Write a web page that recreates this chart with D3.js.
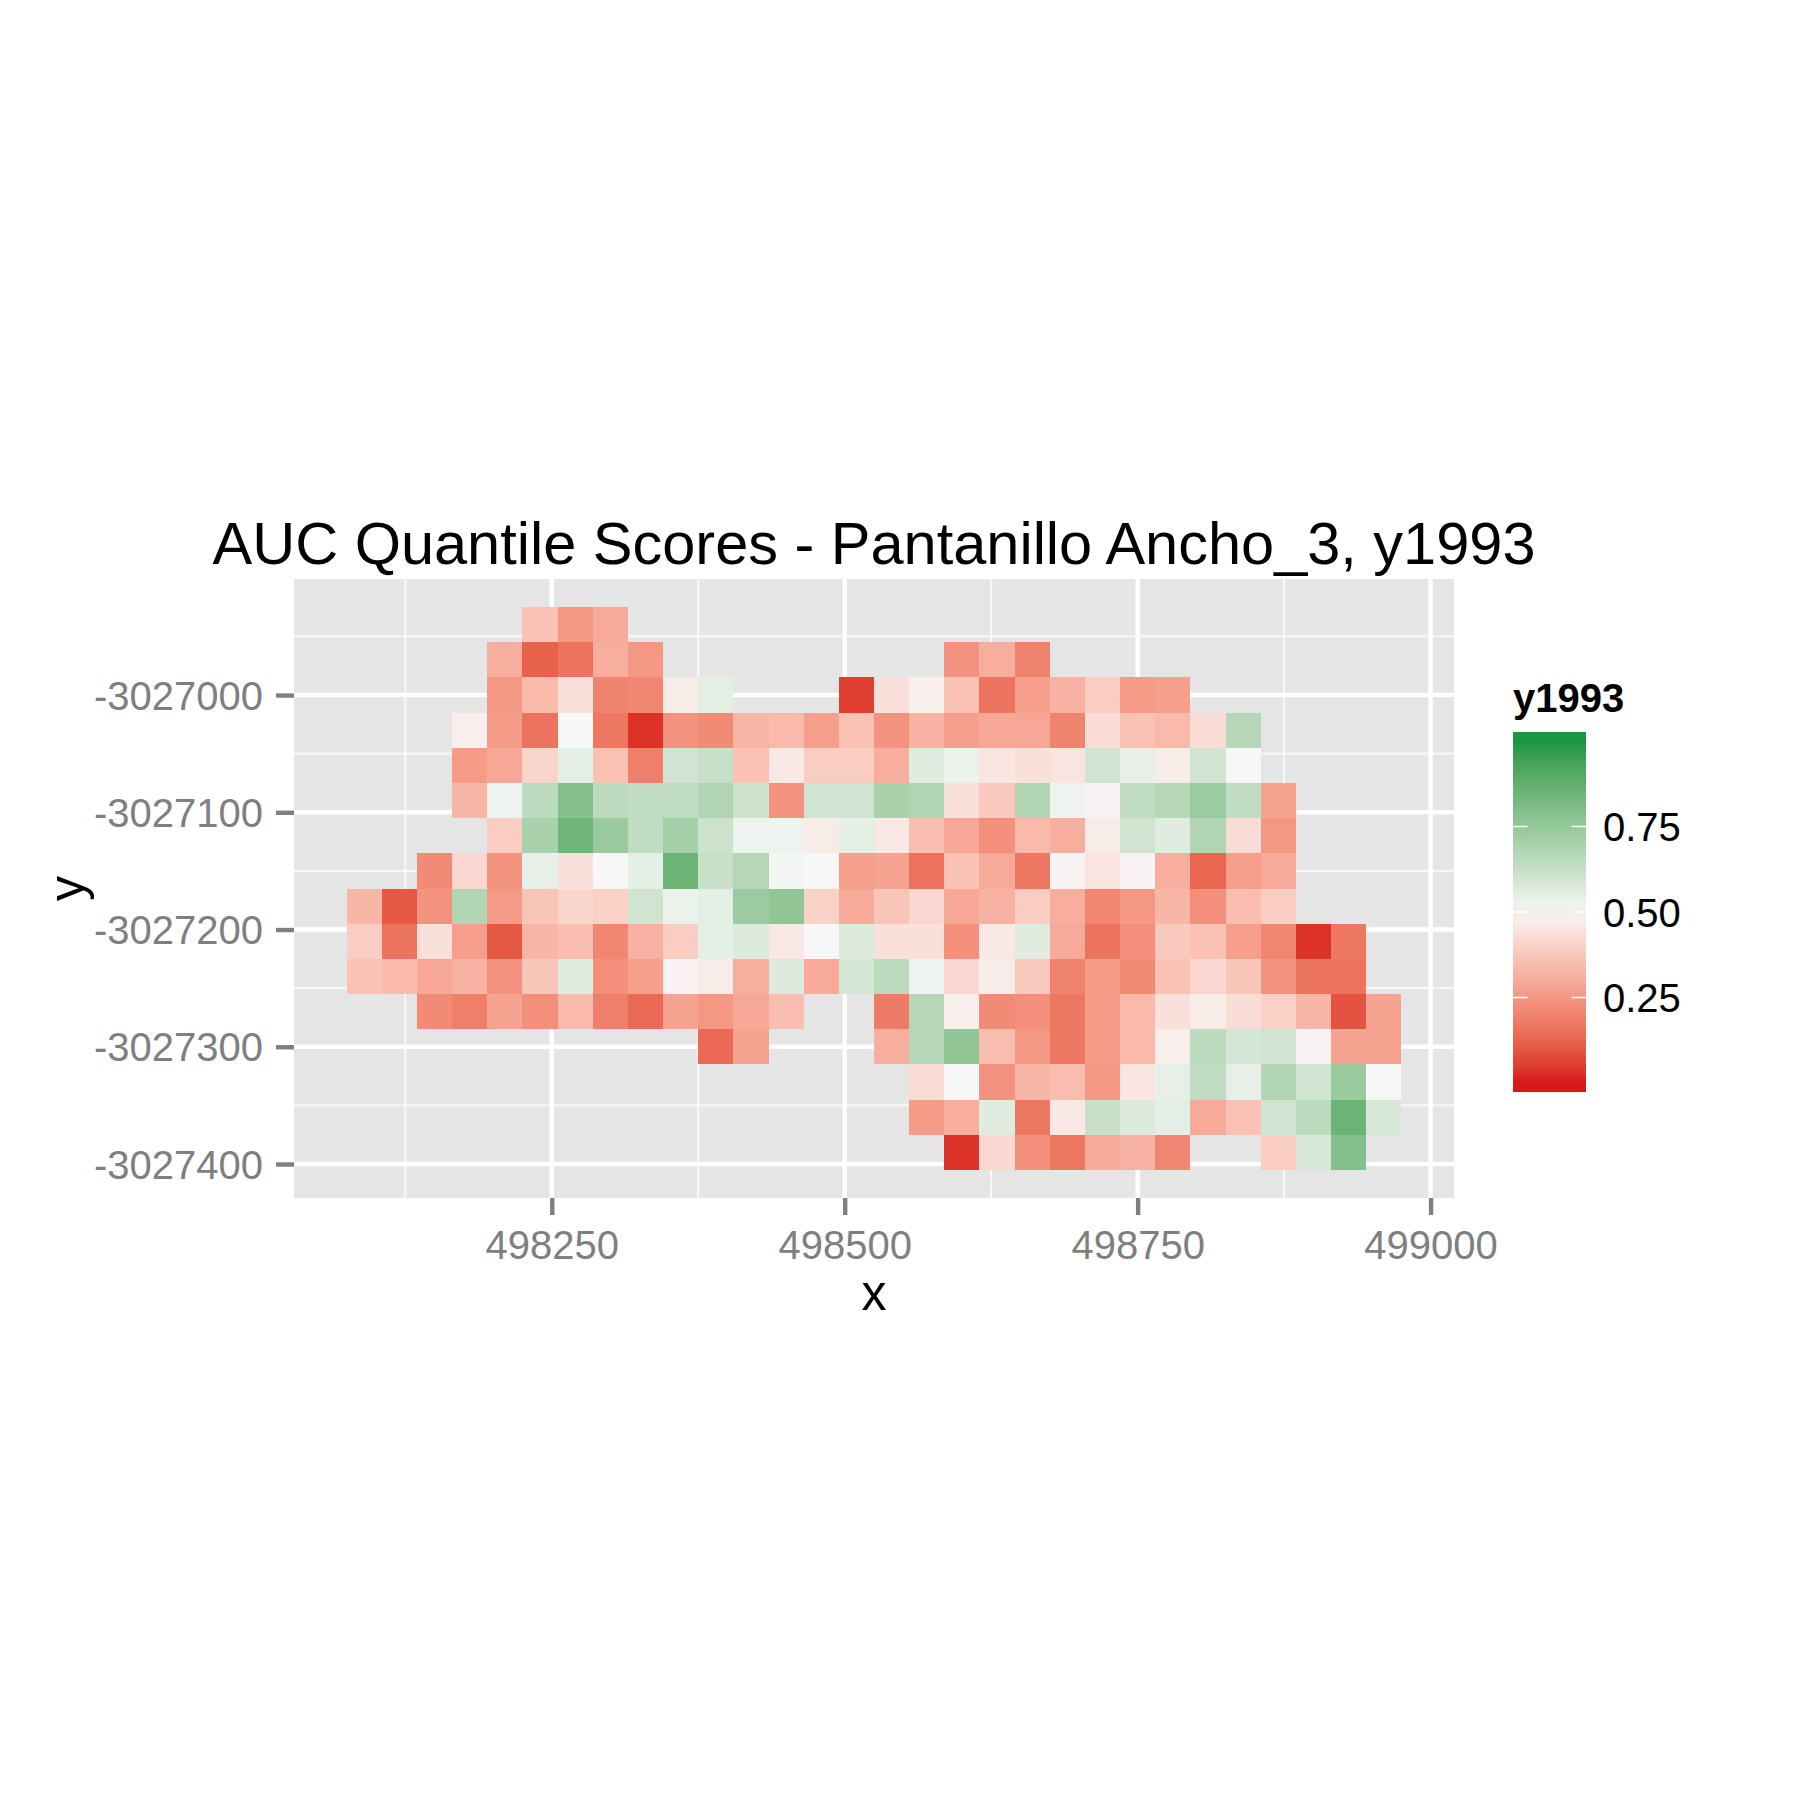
<!DOCTYPE html>
<html>
<head>
<meta charset="utf-8">
<script src="https://cdn.jsdelivr.net/npm/d3@7"></script>
<style>
  html, body { margin: 0; background: #fff; }
  svg { display: block; }
  text { font-family: "Liberation Sans", Arial, sans-serif; }
</style>
</head>
<body>
<script>
const _ = null;

// cell centres
const xCells = [498090, 498120, 498150, 498180, 498210, 498240, 498270, 498300, 498330, 498360,
  498390, 498420, 498450, 498480, 498510, 498540, 498570, 498600, 498630, 498660,
  498690, 498720, 498750, 498780, 498810, 498840, 498870, 498900, 498930, 498960];
const yCells = [-3026940, -3026970, -3027000, -3027030, -3027060, -3027090, -3027120, -3027150,
  -3027180, -3027210, -3027240, -3027270, -3027300, -3027330, -3027360, -3027390];

// y1993 score, one row per yCells entry, one column per xCells entry
const scores = [
  [_, _, _, _, _, .36, .25, .30, _, _, _, _, _, _, _, _, _, _, _, _, _, _, _, _, _, _, _, _, _, _],
  [_, _, _, _, .31, .12, .16, .31, .25, _, _, _, _, _, _, _, _, .24, .31, .20, _, _, _, _, _, _, _, _, _, _],
  [_, _, _, _, .25, .34, .44, .20, .21, .47, .55, _, _, _, .05, .44, .48, .36, .16, .27, .32, .39, .26, .27, _, _, _, _, _, _],
  [_, _, _, .48, .26, .16, .50, .17, .03, .24, .22, .33, .34, .27, .36, .24, .32, .27, .29, .29, .20, .43, .36, .34, .43, .67, _, _, _, _],
  [_, _, _, .26, .29, .41, .55, .36, .19, .60, .62, .36, .46, .39, .39, .31, .56, .53, .45, .44, .45, .60, .54, .47, .60, .50, _, _, _, _],
  [_, _, _, .33, .52, .65, .79, .65, .64, .64, .68, .61, .24, .60, .60, .70, .68, .44, .38, .68, .52, .49, .64, .67, .73, .64, .28, _, _, _],
  [_, _, _, _, .39, .70, .84, .74, .64, .71, .61, .52, .52, .47, .55, .46, .35, .29, .23, .34, .31, .47, .60, .56, .68, .43, .25, _, _, _],
  [_, _, .22, .42, .24, .54, .44, .50, .55, .85, .62, .67, .51, .50, .27, .28, .16, .36, .30, .17, .49, .45, .49, .31, .13, .27, .30, _, _, _],
  [.33, .10, .24, .68, .26, .37, .41, .40, .60, .53, .55, .73, .76, .40, .30, .37, .42, .29, .32, .39, .31, .21, .25, .33, .23, .35, .39, _, _, _],
  [.39, .16, .44, .27, .10, .33, .35, .21, .32, .39, .55, .57, .46, .50, .57, .44, .44, .23, .46, .56, .30, .16, .23, .38, .36, .27, .21, .03, .17, _],
  [.36, .34, .29, .32, .24, .37, .56, .23, .27, .49, .47, .31, .57, .30, .59, .65, .52, .42, .47, .38, .20, .26, .22, .36, .42, .37, .24, .16, .16, _],
  [_, _, .22, .19, .28, .23, .34, .19, .14, .28, .25, .29, .35, _, _, .18, .67, .48, .22, .23, .17, .26, .34, .44, .47, .43, .40, .33, .09, .28],
  [_, _, _, _, _, _, _, _, _, _, .14, .28, _, _, _, .31, .67, .76, .35, .25, .17, .26, .34, .48, .65, .59, .60, .49, .28, .28],
  [_, _, _, _, _, _, _, _, _, _, _, _, _, _, _, _, .43, .50, .24, .33, .35, .25, .45, .54, .64, .54, .68, .60, .74, .50],
  [_, _, _, _, _, _, _, _, _, _, _, _, _, _, _, _, .26, .31, .56, .17, .46, .62, .57, .55, .30, .36, .60, .65, .85, .58],
  [_, _, _, _, _, _, _, _, _, _, _, _, _, _, _, _, _, .03, .42, .23, .17, .30, .32, .21, _, _, .39, .58, .79, _],
];

const xMajor = [498250, 498500, 498750, 499000];
const xMinor = [498125, 498375, 498625, 498875];
const yMajor = [-3027000, -3027100, -3027200, -3027300, -3027400];
const yMinor = [-3026950, -3027050, -3027150, -3027250, -3027350];
const legendTicks = [0.25, 0.5, 0.75];

const width = 1800,
  height = 1800;
const panel = { left: 294, right: 1454, top: 579, bottom: 1198 };
const halfCell = 15;

const svg = d3
  .select("body")
  .append("svg")
  .attr("width", width)
  .attr("height", height)
  .attr("viewBox", [0, 0, width, height]);

const x = d3.scaleLinear().domain([498030, 499020]).range([panel.left, panel.right]);
const y = d3.scaleLinear().domain([-3027429, -3026901]).range([panel.bottom, panel.top]);

const color = d3
  .scaleLinear()
  .domain([0, 0.5, 1])
  .range(["#d7191c", "#f7f7f7", "#1a9641"])
  .interpolate(d3.interpolateLab);

// panel background and grid
svg
  .append("rect")
  .attr("x", panel.left)
  .attr("y", panel.top)
  .attr("width", panel.right - panel.left)
  .attr("height", panel.bottom - panel.top)
  .attr("fill", "#e5e5e5");

function gridLines(values, size, vertical) {
  svg
    .append("g")
    .selectAll("line")
    .data(values)
    .join("line")
    .attr("x1", (d) => (vertical ? x(d) : panel.left))
    .attr("x2", (d) => (vertical ? x(d) : panel.right))
    .attr("y1", (d) => (vertical ? panel.top : y(d)))
    .attr("y2", (d) => (vertical ? panel.bottom : y(d)))
    .attr("stroke", d3.rgb(255, 255, 255, size < 3 ? 0.7 : 1))
    .attr("stroke-width", size);
}
gridLines(xMinor, 2.2, true);
gridLines(yMinor, 2.2, false);
gridLines(xMajor, 4.4, true);
gridLines(yMajor, 4.4, false);

// raster cells
const cells = [];
scores.forEach((row, r) => {
  row.forEach((v, c) => {
    if (v !== null) cells.push({ x: xCells[c], y: yCells[r], v: v });
  });
});

svg
  .append("g")
  .attr("shape-rendering", "crispEdges")
  .selectAll("rect")
  .data(cells)
  .join("rect")
  .attr("x", (d) => x(d.x - halfCell))
  .attr("y", (d) => y(d.y + halfCell))
  .attr("width", (d) => x(d.x + halfCell) - x(d.x - halfCell))
  .attr("height", (d) => y(d.y - halfCell) - y(d.y + halfCell))
  .attr("fill", (d) => color(d.v));

// axes, plain hyphen in the labels like R prints them
const xAxis = d3.axisBottom(x).tickValues(xMajor).tickFormat((d) => String(d)).tickSize(17).tickSizeOuter(0);
const yAxis = d3.axisLeft(y).tickValues(yMajor).tickFormat((d) => String(d)).tickSize(18).tickSizeOuter(0);

function styleAxis(g) {
  g.select(".domain").remove();
  g.selectAll("line").attr("stroke", "#7f7f7f").attr("stroke-width", 4.4);
  g.selectAll("text")
    .attr("fill", "#7f7f7f")
    .attr("font-size", 40)
    .style("font-family", '"Liberation Sans", Arial, sans-serif');
}

svg
  .append("g")
  .attr("transform", `translate(0,${panel.bottom})`)
  .call(xAxis)
  .call(styleAxis)
  .selectAll("text")
  .attr("y", 33)
  .attr("dy", "0.71em");

svg
  .append("g")
  .attr("transform", `translate(${panel.left},0)`)
  .call(yAxis)
  .call(styleAxis)
  .selectAll("text")
  .attr("x", -31)
  .attr("dy", "0.35em");

// titles
const midX = (panel.left + panel.right) / 2;
const midY = (panel.top + panel.bottom) / 2;

svg
  .append("text")
  .attr("x", midX)
  .attr("y", 564)
  .attr("text-anchor", "middle")
  .attr("font-size", 59.5)
  .text("AUC Quantile Scores - Pantanillo Ancho_3, y1993");

svg
  .append("text")
  .attr("x", midX)
  .attr("y", 1310)
  .attr("text-anchor", "middle")
  .attr("font-size", 50)
  .text("x");

svg
  .append("text")
  .attr("transform", `translate(84,${midY}) rotate(-90)`)
  .attr("text-anchor", "middle")
  .attr("font-size", 50)
  .text("y");

// legend, the bar is 20 colour bins blended together
const legend = { left: 1513, right: 1586, top: 732, bottom: 1092 };
const legendY = d3
  .scaleLinear()
  .domain([0, 1])
  .range([legend.bottom - 9, legend.top + 9]);

const bins = d3.range(20).map((i) => i / 19);

const gradient = svg
  .append("defs")
  .append("linearGradient")
  .attr("id", "bar")
  .attr("x1", 0)
  .attr("x2", 0)
  .attr("y1", 0)
  .attr("y2", 1);

gradient
  .selectAll("stop")
  .data(bins.slice().reverse())
  .join("stop")
  .attr("offset", (d) => (legendY(d) - legend.top) / (legend.bottom - legend.top))
  .attr("stop-color", (d) => color(d));

svg
  .append("rect")
  .attr("x", legend.left)
  .attr("y", legend.top)
  .attr("width", legend.right - legend.left)
  .attr("height", legend.bottom - legend.top)
  .attr("fill", "url(#bar)");

const legendTick = svg.append("g").selectAll("g").data(legendTicks).join("g");

legendTick
  .append("line")
  .attr("x1", legend.left)
  .attr("x2", legend.left + 14.5)
  .attr("y1", (d) => legendY(d))
  .attr("y2", (d) => legendY(d));

legendTick
  .append("line")
  .attr("x1", legend.right - 14.5)
  .attr("x2", legend.right)
  .attr("y1", (d) => legendY(d))
  .attr("y2", (d) => legendY(d));

legendTick.selectAll("line").attr("stroke", "#fff").attr("stroke-width", 1.5);

legendTick
  .append("text")
  .attr("x", 1603)
  .attr("y", (d) => legendY(d))
  .attr("dy", "0.37em")
  .attr("font-size", 40)
  .text((d) => d3.format(".2f")(d));

svg
  .append("text")
  .attr("x", legend.left)
  .attr("y", 712)
  .attr("font-size", 40)
  .attr("font-weight", "bold")
  .text("y1993");
</script>
</body>
</html>
